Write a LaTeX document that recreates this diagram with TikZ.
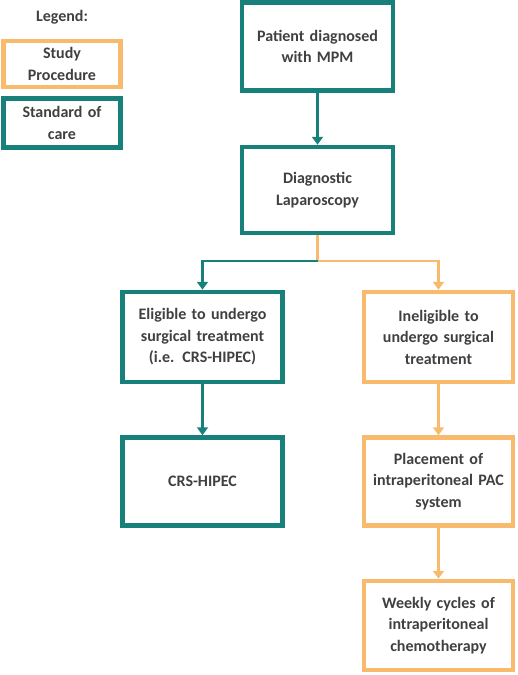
\documentclass[tikz,border=0pt]{standalone}
\usepackage{fontspec}
\setmainfont{Carlito}
\usetikzlibrary{positioning,arrows.meta}

\definecolor{careteal}{HTML}{17807B}
\definecolor{studyorange}{HTML}{F8BA6C}
\definecolor{boxtext}{HTML}{404040}

\begin{document}
\begin{tikzpicture}[
    x=1pt, y=-1pt,
    node distance = 51pt,
    font=\fontsize{16}{21.5}\selectfont\bfseries,
    every node/.style={text=boxtext},
    carebox/.style={draw=careteal, line width=4.5pt, fill=white, align=center, inner xsep=0pt},
    studybox/.style={draw=studyorange, line width=4.5pt, fill=white, align=center, inner xsep=0pt},
    careline/.style={draw=careteal, line width=2.6pt, -{Triangle[width=11pt,length=8pt]}},
    studyline/.style={draw=studyorange, line width=2.6pt, -{Triangle[width=11pt,length=8pt]}},
]

\useasboundingbox (0,0) rectangle (517,675);

% Legend in the upper left corner
\node (legend) at (62,17) {Legend:};
\node[studybox, minimum width=117pt, minimum height=46pt, text width=112pt] (study) at (62,64) {Study\\Procedure};
\node[carebox, minimum width=117pt, minimum height=49pt, text width=112pt, below=7pt of study] (standard) {Standard of\\care};

% Main column
\node[carebox, minimum width=151pt, minimum height=88pt, text width=148pt] (patient) at (317.5,46.5) {Patient diagnosed\\with MPM};
\node[carebox, minimum width=151pt, minimum height=86pt, text width=148pt, below=52pt of patient] (diagnostic) {Diagnostic\\Laparoscopy};

% Left branch: standard of care
\node[carebox, minimum width=160pt, minimum height=90pt, text width=156pt] (eligible) at (202.5,337) {Eligible to undergo\\surgical treatment\\(i.e. CRS-HIPEC)};
\node[carebox, minimum width=160pt, minimum height=88pt, text width=156pt, below=of eligible] (crshipec) {CRS-HIPEC};

% Right branch: study procedure
\node[studybox, minimum width=149pt, minimum height=90pt, text width=146pt] (ineligible) at (438.5,337) {Ineligible to\\undergo surgical\\treatment};
\node[studybox, minimum width=149pt, minimum height=88pt, text width=146pt, below=of ineligible] (placement) {Placement of\\intraperitoneal PAC\\system};
\node[studybox, minimum width=149pt, minimum height=89pt, text width=146pt, below=of placement] (weekly) {Weekly cycles of\\intraperitoneal\\chemotherapy};

% Split point under the laparoscopy box
\coordinate (split) at (diagnostic.south |- 0,261);

% Connectors
\draw[careline] (patient) -- (diagnostic);
\draw[studyline] (diagnostic.south) -- (split) -| (ineligible.north);
\draw[careline] (split) -| (eligible.north);
\draw[careline] (eligible) -- (crshipec);
\draw[studyline] (ineligible) -- (placement);
\draw[studyline] (placement) -- (weekly);

\end{tikzpicture}
\end{document}
